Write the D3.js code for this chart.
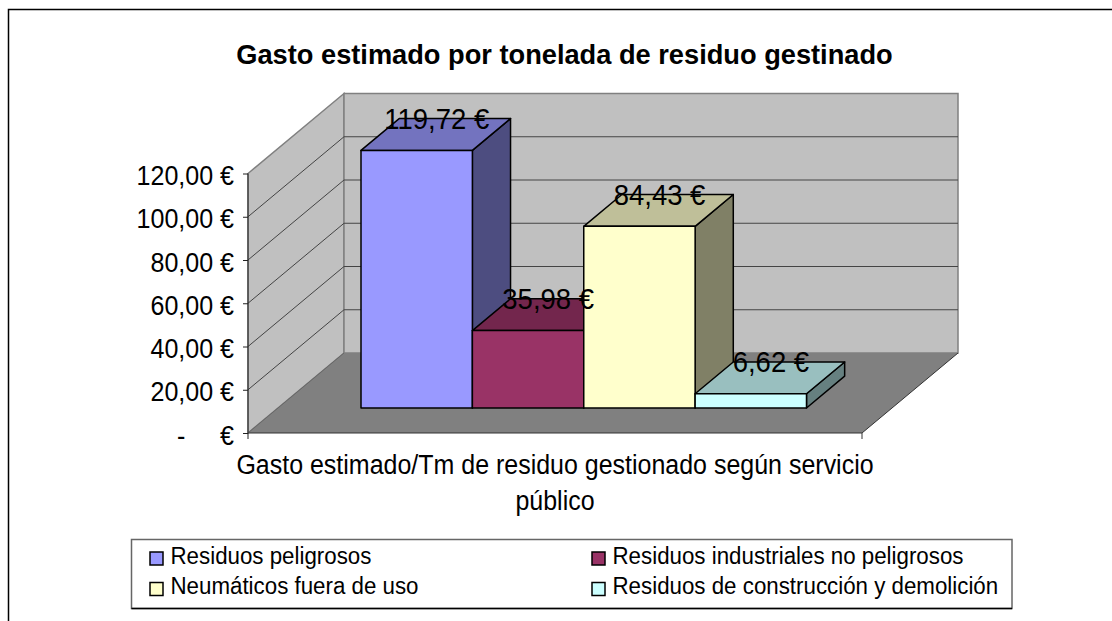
<!DOCTYPE html>
<html>
<head>
<meta charset="utf-8">
<script src="https://cdn.jsdelivr.net/npm/d3@7"></script>
<style>
  html, body { margin: 0; padding: 0; background: #fff; }
  svg { display: block; }
  text { font-family: "Liberation Sans", Arial, sans-serif; fill: #000; white-space: pre; }
</style>
</head>
<body>
<div id="chart"></div>
<script>
const categories = ["Residuos peligrosos", "Residuos industriales no peligrosos", "Neumáticos fuera de uso", "Residuos de construcción y demolición"];
const values = [119.72, 35.98, 84.43, 6.62];
const valueLabels = ["119,72 €", "35,98 €", "84,43 €", "6,62 €"];
const barColors = ["#9999FF", "#993366", "#FFFFCC", "#CCFFFF"];
const tickValues = [0, 20, 40, 60, 80, 100, 120];
const tickLabels = ["-     €", "20,00 €", "40,00 €", "60,00 €", "80,00 €", "100,00 €", "120,00 €"];
const chartTitle = "Gasto estimado por tonelada de residuo gestinado";
const axisTitle = ["Gasto estimado/Tm de residuo gestionado según servicio", "público"];

const width = 1112, height = 621;
const svg = d3.select("#chart").append("svg").attr("width", width).attr("height", height);

// outer frame, only top and left are in the picture
svg.append("path").attr("d", "M8.5,621V9.5H1112").attr("fill", "none").attr("stroke", "#000").attr("stroke-width", 1.5);

// scales
const y = d3.scaleLinear().domain([0, 120]).range([433, 173.5]);
const yBar = d3.scaleLinear().domain([0, 120]).range([433, 174.8]);
const floorX = d3.scaleLinear().domain([0, 1]).range([248, 862]);
const depthX = d3.scaleLinear().domain([0, 1]).range([0, 96]);
const depthY = d3.scaleLinear().domain([0, 1]).range([0, 80]);
const barX = d3.scaleBand().domain(categories).range([331, 776.5]);
const barFront = 0.3125, barBack = 0.71;

// 3d point: screen position of (x on front edge, height, depth)
function pt(x, yPos, depth) {
  return [x + depthX(depth), yPos - depthY(depth)];
}
const poly = d3.line();

// the text in the picture is a bit narrower than the font, squeeze it
function squeeze(sel, k) {
  sel.each(function () {
    const len = this.getComputedTextLength();
    d3.select(this).attr("textLength", len * k).attr("lengthAdjust", "spacingAndGlyphs");
  });
}

// walls and floor
const wallX0 = floorX(0), wallX1 = floorX(1);
svg.append("path")
  .attr("d", poly([pt(wallX0, y(0), 0), pt(wallX0, y(120), 0), pt(wallX0, y(120), 1), pt(wallX0, y(0), 1)]) + "Z")
  .attr("fill", "#C0C0C0").attr("stroke", "#808080").attr("stroke-width", 1.5);
svg.append("path")
  .attr("d", poly([pt(wallX0, y(0), 1), pt(wallX0, y(120), 1), pt(wallX1, y(120), 1), pt(wallX1, y(0), 1)]) + "Z")
  .attr("fill", "#C0C0C0").attr("stroke", "#808080").attr("stroke-width", 1.5);
svg.append("path")
  .attr("d", poly([pt(wallX0, y(0), 0), pt(wallX1, y(0), 0), pt(wallX1, y(0), 1), pt(wallX0, y(0), 1)]) + "Z")
  .attr("fill", "#808080");

// grid lines on both walls
tickValues.filter(d => d > 0 && d < 120).forEach(d => {
  svg.append("path")
    .attr("d", poly([pt(wallX0, y(d), 0), pt(wallX0, y(d), 1), pt(wallX1, y(d), 1)]))
    .attr("fill", "none").attr("stroke", "#444").attr("stroke-width", 1);
});

// floor edges
svg.append("path")
  .attr("d", poly([pt(wallX0, y(0), 0), pt(wallX1, y(0), 0), pt(wallX1, y(0), 1)]))
  .attr("fill", "none").attr("stroke", "#333").attr("stroke-width", 1);
svg.append("path")
  .attr("d", poly([pt(wallX0, y(0), 0), pt(wallX0, y(0), 1)]))
  .attr("fill", "none").attr("stroke", "#666").attr("stroke-width", 1);
svg.append("line")
  .attr("x1", wallX1).attr("x2", wallX1).attr("y1", y(0)).attr("y2", y(0) + 6)
  .attr("stroke", "#333");

// value axis
const axis = d3.axisLeft(y)
  .tickValues(tickValues)
  .tickSize(5)
  .tickPadding(9)
  .tickFormat((d, i) => tickLabels[i]);
const axisG = svg.append("g").attr("transform", `translate(${wallX0},0)`).call(axis);
axisG.attr("font-family", null).attr("font-size", null);
axisG.select(".domain").attr("stroke", "#222").attr("d", `M0,${y(120)}V${y(0) + 6}`);
axisG.selectAll(".tick line").attr("stroke", "#222");
axisG.selectAll(".tick text").attr("font-size", 27.5).attr("dy", "0.4em").call(squeeze, 0.91);

// bars
function shade(color, k) {
  const c = d3.rgb(color);
  return d3.rgb(c.r * k, c.g * k, c.b * k).formatHex();
}
categories.forEach((name, i) => {
  const x0 = barX(name), x1 = x0 + barX.bandwidth();
  const yTop = yBar(values[i]), yBase = yBar(0);
  const g = svg.append("g").attr("stroke", "#000").attr("stroke-width", 1.5).attr("stroke-linejoin", "round");
  g.append("path")
    .attr("d", poly([pt(x1, yBase, barFront), pt(x1, yTop, barFront), pt(x1, yTop, barBack), pt(x1, yBase, barBack)]) + "Z")
    .attr("fill", shade(barColors[i], 0.5));
  g.append("path")
    .attr("d", poly([pt(x0, yTop, barFront), pt(x1, yTop, barFront), pt(x1, yTop, barBack), pt(x0, yTop, barBack)]) + "Z")
    .attr("fill", shade(barColors[i], 0.75));
  g.append("path")
    .attr("d", poly([pt(x0, yBase, barFront), pt(x1, yBase, barFront), pt(x1, yTop, barFront), pt(x0, yTop, barFront)]) + "Z")
    .attr("fill", barColors[i]);
});

// value labels over the top face of the bars
categories.forEach((name, i) => {
  const xm = barX(name) + barX.bandwidth() / 2;
  const p = pt(xm, yBar(values[i]), (barFront + barBack) / 2);
  svg.append("text")
    .attr("x", p[0] + 1).attr("y", p[1] - 5.5)
    .attr("text-anchor", "middle").attr("font-size", 30)
    .text(valueLabels[i])
    .call(squeeze, 0.915);
});

// titles
svg.append("text").attr("x", 564.5).attr("y", 63.5).attr("text-anchor", "middle")
  .attr("font-size", 28.5).attr("font-weight", "bold").text(chartTitle)
  .call(squeeze, 0.955);
axisTitle.forEach((line, i) => {
  svg.append("text").attr("x", 555).attr("y", 474 + i * 36).attr("text-anchor", "middle")
    .attr("font-size", 27).text(line)
    .call(squeeze, 0.925);
});

// legend
const legendX = d3.scaleOrdinal().domain([0, 1]).range([150, 592]);
const legendY = d3.scaleOrdinal().domain([0, 1]).range([552, 582.5]);
svg.append("rect").attr("x", 131.5).attr("y", 539.5).attr("width", 880.5).attr("height", 69)
  .attr("fill", "#fff").attr("stroke", "#666").attr("stroke-width", 1.5);
svg.append("line").attr("x1", 131.5).attr("x2", 1012).attr("y1", 608.5).attr("y2", 608.5)
  .attr("stroke", "#000").attr("stroke-width", 1.5);
categories.forEach((name, i) => {
  const lx = legendX(i % 2), ly = legendY(Math.floor(i / 2));
  svg.append("rect").attr("x", lx).attr("y", ly).attr("width", 13).attr("height", 13)
    .attr("fill", barColors[i]).attr("stroke", "#000").attr("stroke-width", 1.5);
  svg.append("text").attr("x", lx + 20.5).attr("y", ly + 11.5).attr("font-size", 23).text(name)
    .call(squeeze, 0.97);
});
</script>
</body>
</html>
